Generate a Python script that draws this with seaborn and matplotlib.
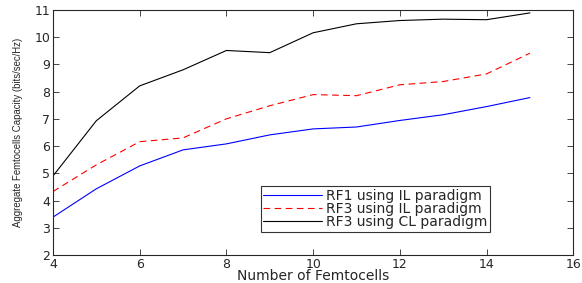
import numpy as np
import pandas as pd
import matplotlib
matplotlib.use("Agg")
import matplotlib.pyplot as plt
from matplotlib.lines import Line2D
import seaborn as sns

# Values
femtocells = [4, 5, 6, 7, 8, 9, 10, 11, 12, 13, 14, 15]
rf1_il = [3.39, 4.43, 5.27, 5.86, 6.08, 6.41, 6.63, 6.70, 6.94, 7.15, 7.45, 7.78]
rf3_il = [4.33, 5.31, 6.16, 6.30, 7.00, 7.48, 7.89, 7.85, 8.25, 8.37, 8.65, 9.41]
rf3_cl = [4.90, 6.93, 8.21, 8.80, 9.51, 9.43, 10.16, 10.49, 10.61, 10.66, 10.64, 10.89]
labels = ['RF1 using IL paradigm', 'RF3 using IL paradigm', 'RF3 using CL paradigm']

df = pd.DataFrame({
    'n': femtocells * 3,
    'capacity': rf1_il + rf3_il + rf3_cl,
    'scheme': [labels[0]] * 12 + [labels[1]] * 12 + [labels[2]] * 12,
})

sns.set_style("ticks")
plt.rcParams['font.family'] = ['DejaVu Sans']

fig = plt.figure(figsize=(5.82, 2.83), dpi=100)
ax = fig.add_axes([0.091, 0.099, 0.894, 0.866])

sns.lineplot(data=df, x='n', y='capacity', hue='scheme', style='scheme',
             palette={labels[0]: 'blue', labels[1]: 'red', labels[2]: 'black'},
             dashes={labels[0]: '', labels[1]: (6, 4), labels[2]: ''},
             linewidth=0.8, ax=ax, legend=False)

ax.set_xlim(4, 16)
ax.set_ylim(2, 11)
ax.set_xticks(range(4, 17, 2))
ax.set_yticks(range(2, 12))
ax.tick_params(direction='in', top=True, right=True, labelsize=9, length=4, width=0.6, pad=2)
for s in ax.spines.values():
    s.set_linewidth(0.8)
    s.set_visible(True)

ax.set_xlabel('Number of Femtocells', fontsize=10, labelpad=-1)
ax.set_ylabel('Aggregate Femtocells Capacity (bits/sec/Hz)', fontsize=6.9,
              family='Liberation Sans', labelpad=8)

handles = [Line2D([0], [0], color='blue', lw=0.8),
           Line2D([0], [0], color='red', lw=0.8, dashes=(6, 4)),
           Line2D([0], [0], color='black', lw=0.8)]
leg = ax.legend(handles, labels, loc='lower right', bbox_to_anchor=(0.84, 0.094),
                fontsize=10, frameon=True, fancybox=False, handlelength=4.2,
                borderpad=0.2, labelspacing=-0.05, handletextpad=0.3, borderaxespad=0)
leg.get_frame().set_edgecolor('black')
leg.get_frame().set_linewidth(0.8)

fig.savefig('out.png', dpi=100)
